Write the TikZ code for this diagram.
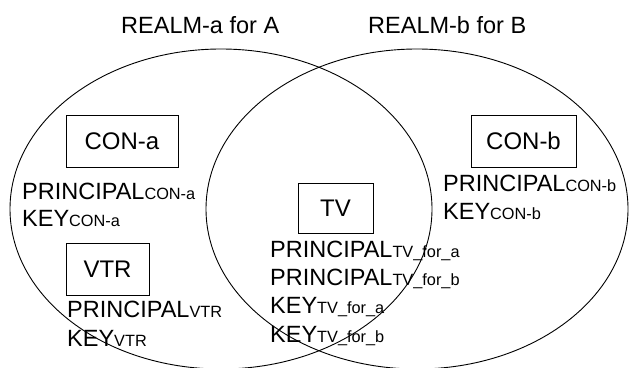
\documentclass[tikz,border=0pt]{standalone}
\usepackage{fontspec}
\setmainfont{Liberation Sans}
\newcommand{\sbs}[1]{{\fontsize{16.3}{18}\selectfont #1}}
\begin{document}
\begin{tikzpicture}[x=1pt,y=-1pt,
  lbl/.style={anchor=base west, inner sep=0pt, font=\fontsize{23.5}{27}\selectfont},
  ttl/.style={anchor=base west, inner sep=0pt, font=\fontsize{23.5}{27}\selectfont},
  box/.style={draw, line width=0.8pt, inner sep=0pt, font=\fontsize{24}{27}\selectfont},
  realm/.style={draw, line width=0.9pt}]
\useasboundingbox (0,0) rectangle (631,367);
\begin{scope}
  \clip (0,0) rectangle (631,367);
  \draw[realm] (221,209) ellipse [x radius=211, y radius=160];
  \draw[realm] (417,209) ellipse [x radius=211, y radius=160];
\end{scope}
% titles
\node[ttl] (ta) at (121,33) {REALM-a for A};
\node[ttl] (tb) at (368,33) {REALM-b for B};
% boxes
\node[box, minimum width=112pt, minimum height=52pt] (cona) at (122,141) {CON-a};
\node[box, minimum width=105pt, minimum height=52pt] (conb) at (523.5,141) {CON-b};
\node[box, minimum width=75pt, minimum height=50pt] (tv) at (335.5,208) {TV};
\node[box, minimum width=83pt, minimum height=52pt] (vtr) at (107.5,269) {VTR};
% labels
\node[lbl] (pcona) at (22,199) {PRINCIPAL\sbs{CON-a}};
\node[lbl] (kcona) at (22,226) {KEY\sbs{CON-a}};
\node[lbl] (pconb) at (443,191) {PRINCIPAL\sbs{CON-b}};
\node[lbl] (kconb) at (443,219) {KEY\sbs{CON-b}};
\node[lbl] (pvtr) at (67,317) {PRINCIPAL\sbs{VTR}};
\node[lbl] (kvtr) at (67,346) {KEY\sbs{VTR}};
\node[lbl] (ptva) at (270,257) {PRINCIPAL\sbs{TV\_for\_a}};
\node[lbl] (ptvb) at (270,285) {PRINCIPAL\sbs{TV\_for\_b}};
\node[lbl] (ktva) at (270,313) {KEY\sbs{TV\_for\_a}};
\node[lbl] (ktvb) at (270,342) {KEY\sbs{TV\_for\_b}};
\end{tikzpicture}
\end{document}
